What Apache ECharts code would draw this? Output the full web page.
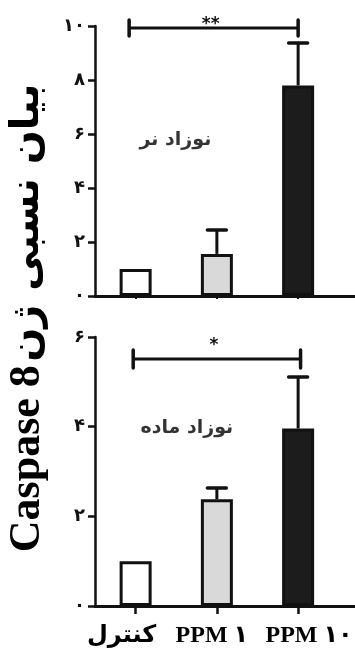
<!DOCTYPE html>
<html>
<head>
<meta charset="utf-8">
<script src="https://cdn.jsdelivr.net/npm/echarts@6/dist/echarts.min.js"></script>
<style>
html,body{margin:0;padding:0;background:#fff;}
#c{width:355px;height:651px;}
</style>
</head>
<body>
<div id="c"></div>
<script>
// ---- data ----
const categories = ['کنترل', 'PPM ۱', 'PPM ۱۰'];
const maleMeans = [1, 1.56, 7.8];
const maleSE = [0, 0.88, 1.57];
const femaleMeans = [1, 2.38, 3.96];
const femaleSE = [0, 0.25, 1.15];
const maleYTicks = ['۰', '۲', '۴', '۶', '۸', '۱۰'];
const femaleYTicks = ['۰', '۲', '۴', '۶'];
const maleBracket = [-0.08, 2.0, 9.93, '**'];
const femaleBracket = [-0.03, 2.03, 5.51, '*'];
const panelLabels = ['نوزاد نر', 'نوزاد ماده'];
const malePanelLabelPos = [0.49, 5.78];
const femalePanelLabelPos = [0.63, 3.97];
const yTitleLatin = 'Caspase 8';
const yTitlePersian = 'بیان نسبی ژن';

// ---- styles ----
const barFills = ['#ffffff', '#d9d9d9', '#1c1c1c'];
const catLabelShift = [-14, -5, 11];
const INK = '#111';
const chart = echarts.init(document.getElementById('c'), null, {renderer: 'canvas'});

function barData(means) {
  return means.map((m, i) => ({
    value: [i, m],
    itemStyle: {color: barFills[i], borderColor: INK, borderWidth: 3}
  }));
}
function errData(means, se) {
  return means.map((m, i) => [i, m, m + se[i]]).filter((d, i) => se[i] > 0);
}
function renderErr(params, api) {
  const x = api.value(0), y = api.value(1), t = api.value(2);
  const p0 = api.coord([x, y]);
  const p1 = api.coord([x, t]);
  const cap = 9.5;
  return {
    type: 'group',
    children: [
      {type: 'line', shape: {x1: p0[0], y1: p0[1], x2: p1[0], y2: p1[1]}, style: {stroke: INK, lineWidth: 3}},
      {type: 'line', shape: {x1: p1[0] - cap, y1: p1[1], x2: p1[0] + cap, y2: p1[1]}, style: {stroke: INK, lineWidth: 3.5, lineCap: 'round'}}
    ]
  };
}
function renderBracket(capH, textGap) {
  return function (params, api) {
    const a = api.coord([api.value(0), api.value(2)]);
    const b = api.coord([api.value(1), api.value(2)]);
    return {
      type: 'group',
      children: [
        {type: 'line', shape: {x1: a[0], y1: a[1], x2: b[0], y2: b[1]}, style: {stroke: INK, lineWidth: 3}},
        {type: 'line', shape: {x1: a[0], y1: a[1] - capH, x2: a[0], y2: a[1] + capH}, style: {stroke: INK, lineWidth: 3.5, lineCap: 'round'}},
        {type: 'line', shape: {x1: b[0], y1: b[1] - capH, x2: b[0], y2: b[1] + capH}, style: {stroke: INK, lineWidth: 3.5, lineCap: 'round'}},
        {type: 'text', style: {text: api.value(3), x: (a[0] + b[0]) / 2 - 3, y: a[1] - textGap, align: 'center', verticalAlign: 'middle', fill: INK, font: 'bold 17px "DejaVu Sans"'}}
      ]
    };
  };
}
function renderCatLabel(params, api) {
  const p = api.coord([api.value(0), 0]);
  return {
    type: 'text',
    style: {text: categories[params.dataIndex], x: p[0] + catLabelShift[params.dataIndex], y: p[1] + 30,
      align: 'center', verticalAlign: 'middle',
      fill: '#000', font: 'bold 24px "Liberation Serif", "DejaVu Sans"'}
  };
}

const xCommon = {
  type: 'value', min: -0.5, max: 2.7,
  splitLine: {show: false},
  axisLabel: {show: false},
  axisLine: {show: true, onZero: false, lineStyle: {color: INK, width: 3}}
};
const yCommon = {
  type: 'value', min: 0, interval: 2,
  splitLine: {show: false},
  axisLine: {show: true, onZero: false, lineStyle: {color: INK, width: 2.5}},
  axisTick: {show: true, length: 7, lineStyle: {color: INK, width: 2.5}}
};

const option = {
  animation: false,
  backgroundColor: '#fff',
  grid: [
    {left: 95, right: 0, top: 26, height: 270},
    {left: 95, right: 0, top: 337, height: 269}
  ],
  xAxis: [
    Object.assign({}, xCommon, {gridIndex: 0,
      axisTick: {show: true, length: 3, customValues: [0, 1, 2], lineStyle: {color: INK, width: 2}}}),
    Object.assign({}, xCommon, {gridIndex: 1,
      axisTick: {show: true, length: 8, customValues: [0, 1, 2], lineStyle: {color: INK, width: 2.5}}})
  ],
  yAxis: [
    Object.assign({}, yCommon, {gridIndex: 0, max: 10,
      axisLabel: {margin: 10, color: INK, fontFamily: '"DejaVu Sans"', fontWeight: 'bold', fontSize: 18,
        formatter: v => maleYTicks[Math.round(v / 2)]}}),
    Object.assign({}, yCommon, {gridIndex: 1, max: 6,
      axisLabel: {margin: 10, color: INK, fontFamily: '"DejaVu Sans"', fontWeight: 'bold', fontSize: 18,
        formatter: v => femaleYTicks[Math.round(v / 2)]}})
  ],
  series: [
    {type: 'bar', xAxisIndex: 0, yAxisIndex: 0, barWidth: 32, data: barData(maleMeans), z: 2},
    {type: 'custom', xAxisIndex: 0, yAxisIndex: 0, renderItem: renderErr, data: errData(maleMeans, maleSE), z: 3},
    {type: 'custom', xAxisIndex: 0, yAxisIndex: 0, renderItem: renderBracket(8, 3.5), data: [maleBracket], z: 3},
    {type: 'scatter', xAxisIndex: 0, yAxisIndex: 0, symbolSize: 0, data: [malePanelLabelPos],
      label: {show: true, position: 'inside', formatter: () => panelLabels[0], color: '#000',
        fontFamily: '"DejaVu Sans"', fontWeight: 'bold', fontSize: 19}},
    {type: 'bar', xAxisIndex: 1, yAxisIndex: 1, barWidth: 32, data: barData(femaleMeans), z: 2},
    {type: 'custom', xAxisIndex: 1, yAxisIndex: 1, renderItem: renderErr, data: errData(femaleMeans, femaleSE), z: 3},
    {type: 'custom', xAxisIndex: 1, yAxisIndex: 1, renderItem: renderBracket(9, 13.5), data: [femaleBracket], z: 3},
    {type: 'scatter', xAxisIndex: 1, yAxisIndex: 1, symbolSize: 0, data: [femalePanelLabelPos],
      label: {show: true, position: 'inside', formatter: () => panelLabels[1], color: '#000',
        fontFamily: '"DejaVu Sans"', fontWeight: 'bold', fontSize: 19}},
    {type: 'custom', xAxisIndex: 1, yAxisIndex: 1, renderItem: renderCatLabel, clip: false,
      data: categories.map((c, i) => [i, 0]), z: 4}
  ],
  graphic: [
    {type: 'text', x: 28, y: 318, rotation: Math.PI / 2,
      style: {
        text: '{a|' + yTitleLatin + '} {b|' + yTitlePersian + '}',
        align: 'center', verticalAlign: 'middle',
        rich: {
          a: {fontFamily: '"Liberation Serif"', fontWeight: 'bold', fontSize: 44, fill: '#000'},
          b: {fontFamily: '"DejaVu Sans"', fontWeight: 'bold', fontSize: 40, fill: '#000'}
        }
      }}
  ]
};
chart.setOption(option);
</script>
</body>
</html>
